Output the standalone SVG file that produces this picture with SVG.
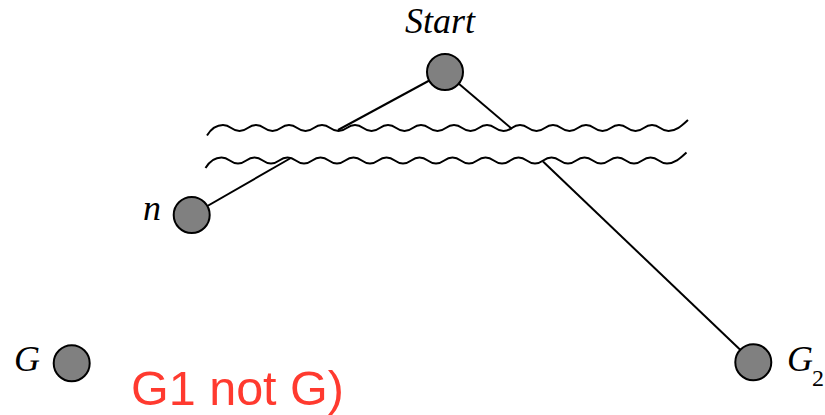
<svg xmlns="http://www.w3.org/2000/svg" xmlns:xlink="http://www.w3.org/1999/xlink" width="825" height="415" viewBox="0 0 825 415">
  <style>
    .node { fill: #808080; stroke: #000; stroke-width: 2; }
    .edge { stroke: #000; stroke-width: 2; fill: none; }
    .wave { stroke: #000; stroke-width: 2; fill: none; }
    .lbl { font-family: "Liberation Serif", "Times New Roman", serif; font-style: italic; font-size: 36px; fill: #000; }
    .sub { font-family: "Liberation Serif", "Times New Roman", serif; font-size: 24px; fill: #000; }
    .note { font-family: "Liberation Sans", Arial, sans-serif; font-size: 48.5px; fill: #ff3a2f; }
  </style>
  <defs>
    <path id="wave" d="M207,135.5 C211,129 216,125 223,125 c8.25,0 8.25,6 16.5,6 s8.25,-6 16.5,-6 s8.25,6 16.5,6 s8.25,-6 16.5,-6 s8.25,6 16.5,6 s8.25,-6 16.5,-6 s8.25,6 16.5,6 s8.25,-6 16.5,-6 s8.25,6 16.5,6 s8.25,-6 16.5,-6 s8.25,6 16.5,6 s8.25,-6 16.5,-6 s8.25,6 16.5,6 s8.25,-6 16.5,-6 s8.25,6 16.5,6 s8.25,-6 16.5,-6 s8.25,6 16.5,6 s8.25,-6 16.5,-6 s8.25,6 16.5,6 s8.25,-6 16.5,-6 s8.25,6 16.5,6 s8.25,-6 16.5,-6 s8.25,6 16.5,6 s8.25,-6 16.5,-6 s8.25,6 16.5,6 s8.25,-6 16.5,-6 s8.25,6 16.5,6 s14,-6 19.5,-11"/>
  </defs>
  <g id="waves">
    <use xlink:href="#wave" class="wave"/>
    <use xlink:href="#wave" class="wave" transform="translate(-1.5,32.5)"/>
  </g>
  <g id="connectors">
    <line class="edge" x1="445" y1="72" x2="338" y2="130"/>
    <line class="edge" x1="290" y1="158.5" x2="191.7" y2="215"/>
    <line class="edge" x1="445" y1="72" x2="512" y2="129"/>
    <line class="edge" x1="543" y1="161.5" x2="753.3" y2="362.3"/>
  </g>
  <g id="start">
    <circle class="node" cx="445" cy="72" r="18"/>
    <text class="lbl" x="405" y="33">Start</text>
  </g>
  <g id="n">
    <circle class="node" cx="191.7" cy="215" r="18"/>
    <text class="lbl" x="143" y="220">n</text>
  </g>
  <g id="G">
    <circle class="node" cx="71.7" cy="363.3" r="18"/>
    <text class="lbl" x="14" y="371">G</text>
  </g>
  <g id="G2">
    <circle class="node" cx="753.3" cy="362.3" r="18"/>
    <text class="lbl" x="787" y="371">G</text>
    <text class="sub" x="812" y="386">2</text>
  </g>
  <g id="note">
    <text class="note" x="131" y="405">G1 not G)</text>
  </g>
</svg>
